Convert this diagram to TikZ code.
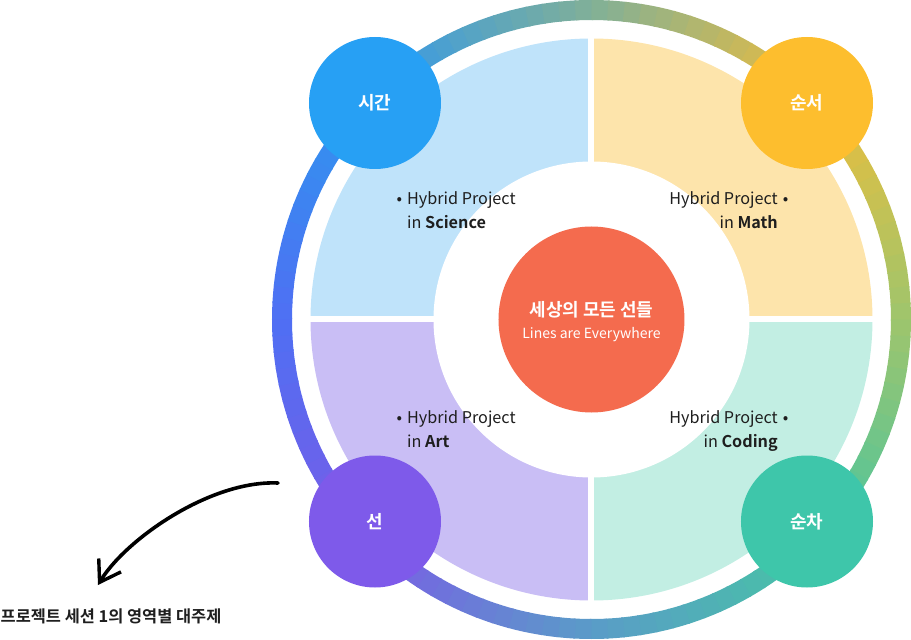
\documentclass[tikz,border=0pt]{standalone}
\usepackage{fontspec}
\setmainfont{Noto Sans CJK KR}[BoldFont={* Bold}]
\usetikzlibrary{arrows.meta}
\definecolor{ringA}{HTML}{2E97EF}
\definecolor{ringB}{HTML}{80B098}
\definecolor{ringC}{HTML}{EFBD3A}
\definecolor{ringD}{HTML}{9FC56C}
\definecolor{ringE}{HTML}{46C5A3}
\definecolor{ringF}{HTML}{5A9CC8}
\definecolor{ringG}{HTML}{7A5CE6}
\definecolor{ringH}{HTML}{4F6FF3}
\definecolor{timeBlue}{HTML}{27A0F4}
\definecolor{orderYellow}{HTML}{FDBE2E}
\definecolor{lineViolet}{HTML}{7E5AEA}
\definecolor{seqTeal}{HTML}{3EC6AA}
\definecolor{sciFill}{HTML}{BFE3FA}
\definecolor{mathFill}{HTML}{FDE4AB}
\definecolor{artFill}{HTML}{C9BEF5}
\definecolor{codeFill}{HTML}{C2EEE3}
\definecolor{coreRed}{HTML}{F46B4E}
\definecolor{textDark}{HTML}{1E1E1E}
\tikzset{
  badge/.style={circle, minimum size=132pt, inner sep=0, text=white, font=\fontsize{18}{20}\selectfont\bfseries},
  topic/.style={inner sep=0, text=textDark, font=\fontsize{16.2}{23.5}\selectfont},
}
\begin{document}
\begin{tikzpicture}[x=1pt, y=1pt]
\useasboundingbox (-591.5,-320.5) rectangle (319.5,319.5);
% outer ring
\foreach \a/\ca/\cb in {135/ringA/ringB, 90/ringB/ringC, 45/ringC/ringD, 0/ringD/ringE, -45/ringE/ringF, -90/ringF/ringG, -135/ringG/ringH, -180/ringH/ringA}
  \foreach \i in {0,...,14} {
    \pgfmathtruncatemacro\p{100-(\i+0.5)*100/15}
    \pgfmathsetmacro\s{\a-\i*3}
    \draw[color=\ca!\p!\cb, line width=20pt] (\s:309.5) arc[start angle=\s, end angle=\s-3.3, radius=309.5];
  }
% quadrants
\fill[sciFill] (0,0) -- (180:281) arc[start angle=180, end angle=90, radius=281] -- cycle;
\fill[mathFill] (0,0) -- (90:281) arc[start angle=90, end angle=0, radius=281] -- cycle;
\fill[codeFill] (0,0) -- (0:281) arc[start angle=0, end angle=-90, radius=281] -- cycle;
\fill[artFill] (0,0) -- (-90:281) arc[start angle=-90, end angle=-180, radius=281] -- cycle;
\draw[white, line width=6pt] (-285,0) -- (285,0) (0,-285) -- (0,285);
\fill[white] (0,0) circle[radius=158];
% core
\node[circle, fill=coreRed, minimum size=186pt, inner sep=0] (core) at (0,0) {};
\node[text=white, font=\fontsize{18}{20}\selectfont\bfseries] (coreTitle) at (0,9.5) {세상의 모든 선들};
\node[text=white, font=\fontsize{14}{16}\selectfont] (coreSub) at (0,-15.5) {Lines are Everywhere};
% topics
\node[topic, anchor=north west, align=left] (science) at (-184.5,128) {\llap{•\hspace{5pt}}Hybrid Project\\in \textbf{Science}};
\node[topic, anchor=north east, align=right] (math) at (186.5,128) {Hybrid Project\rlap{\hspace{5pt}•}\\in \textbf{Math}};
\node[topic, anchor=north west, align=left] (art) at (-184.5,-91) {\llap{•\hspace{5pt}}Hybrid Project\\in \textbf{Art}};
\node[topic, anchor=north east, align=right] (coding) at (186.5,-91) {Hybrid Project\rlap{\hspace{5pt}•}\\in \textbf{Coding}};
% badges
\node[badge, fill=timeBlue] (time) at (-216.5,216.5) {시간};
\node[badge, fill=orderYellow] (order) at (215.5,216.5) {순서};
\node[badge, fill=lineViolet] (line) at (-216.5,-202) {선};
\node[badge, fill=seqTeal] (seq) at (215.5,-202) {순차};
% note
\node[anchor=west, inner sep=0, text=textDark, font=\fontsize{16.4}{18}\selectfont\bfseries] (note) at (-591,-296.5) {프로젝트 세션 1의 영역별 대주제};
\coordinate (arrowStart) at (-313.5,-163.5);
\coordinate (arrowTip) at (-493.5,-265.5);
\draw[line width=3.6pt, line cap=round, -{Straight Barb[length=20pt, width=26pt, line width=3.4pt]}] (arrowStart) .. controls (-381.5,-160.5) and (-466.5,-220.5) .. (arrowTip);
\end{tikzpicture}
\end{document}
